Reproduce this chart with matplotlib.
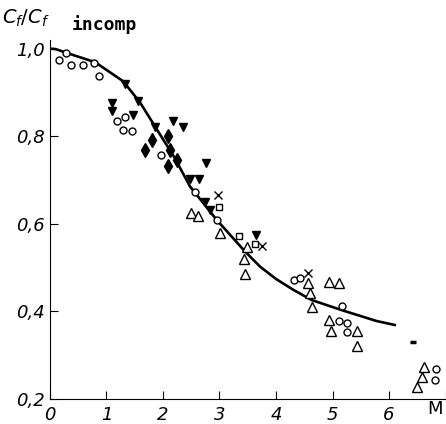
import numpy as np
import matplotlib.pyplot as plt

# solid curve
curve_M = [0, 0.1, 0.3, 0.8, 1.3, 1.6, 1.86, 2.2, 2.48, 2.95, 3.45, 3.72, 4.0, 4.31, 4.63, 5.16, 5.78, 6.1]
curve_cf = [1.0, 0.999, 0.99, 0.969, 0.925, 0.876, 0.822, 0.752, 0.685, 0.609, 0.537, 0.502, 0.474, 0.449, 0.426, 0.403, 0.378, 0.369]

# open circles
circ_M = [0.16, 0.28, 0.38, 0.59, 0.78, 0.86, 1.18, 1.33, 1.30, 1.45, 1.96, 2.57, 2.95,
          4.31, 4.42, 5.16, 5.11, 5.26, 5.26, 6.83, 6.81]
circ_cf = [0.975, 0.99, 0.963, 0.962, 0.967, 0.938, 0.835, 0.844, 0.815, 0.813, 0.758, 0.672, 0.608,
           0.472, 0.476, 0.413, 0.379, 0.373, 0.352, 0.268, 0.243]

# filled down triangles
tri_d_M = [1.33, 1.56, 1.09, 1.09, 1.47, 1.86, 2.18, 2.36, 2.77, 2.47, 2.64, 2.74, 2.84, 3.65]
tri_d_cf = [0.92, 0.88, 0.876, 0.857, 0.849, 0.822, 0.834, 0.821, 0.739, 0.702, 0.702, 0.649, 0.632, 0.575]

# filled diamonds
dia_M = [1.80, 2.09, 1.68, 2.12, 2.25, 2.09]
dia_cf = [0.792, 0.80, 0.769, 0.769, 0.746, 0.731]

# open up triangles
tri_u_M = [2.49, 2.62, 3.01, 3.48, 3.43, 3.45, 4.57, 4.60, 4.63, 4.93, 5.11, 4.93, 4.97, 5.43, 5.43,
           6.62, 6.59, 6.50]
tri_u_cf = [0.624, 0.617, 0.579, 0.546, 0.519, 0.486, 0.464, 0.442, 0.411, 0.466, 0.464, 0.381, 0.355,
            0.355, 0.32, 0.274, 0.251, 0.228]

# open squares
sq_M = [3.0, 3.35, 3.63]
sq_cf = [0.638, 0.573, 0.554]

# crosses
x_M = [2.97, 3.75, 4.57]
x_cf = [0.666, 0.55, 0.487]

fig = plt.figure(figsize=(4.46, 4.24), dpi=100)
ax = fig.add_axes([0.112, 0.059, 0.887, 0.847])

ax.plot(curve_M, curve_cf, color='black', lw=1.9)
ax.plot(circ_M, circ_cf, 'o', mfc='white', mec='black', ms=5, mew=1)
ax.plot(tri_d_M, tri_d_cf, 'v', color='black', ms=6)
ax.plot(dia_M, dia_cf, 'd', color='black', ms=7)
ax.plot(tri_u_M, tri_u_cf, '^', mfc='white', mec='black', ms=6.5, mew=1)
ax.plot(sq_M, sq_cf, 's', mfc='white', mec='black', ms=5, mew=1)
ax.plot(x_M, x_cf, 'x', color='black', ms=5.5, mew=1)
ax.plot([6.43], [0.331], '_', color='black', ms=4, mew=2.5)

ax.set_xlim(0, 7)
ax.set_ylim(0.2, 1.02)
ax.spines['top'].set_visible(False)
ax.spines['right'].set_visible(False)
ax.set_xticks(range(8))
ax.set_xticklabels(['0', '1', '2', '3', '4', '5', '6', ''], fontstyle='italic', fontsize=13)
ax.set_yticks([0.2, 0.4, 0.6, 0.8, 1.0])
ax.set_yticklabels(['0,2', '0,4', '0,6', '0,8', '1,0'], fontstyle='italic', fontsize=13)
ax.tick_params(direction='in', length=6, color='black')
ax.tick_params(axis='x', pad=5)

fig.text(0.992, 0.023, 'M', fontsize=13, ha='right')
fig.text(0.005, 0.945, r'$C_f/C_f$', fontsize=14, style='italic')
fig.text(0.16, 0.93, 'incomp', fontsize=13, family='DejaVu Sans Mono', fontweight='bold')

plt.savefig('out.png')
